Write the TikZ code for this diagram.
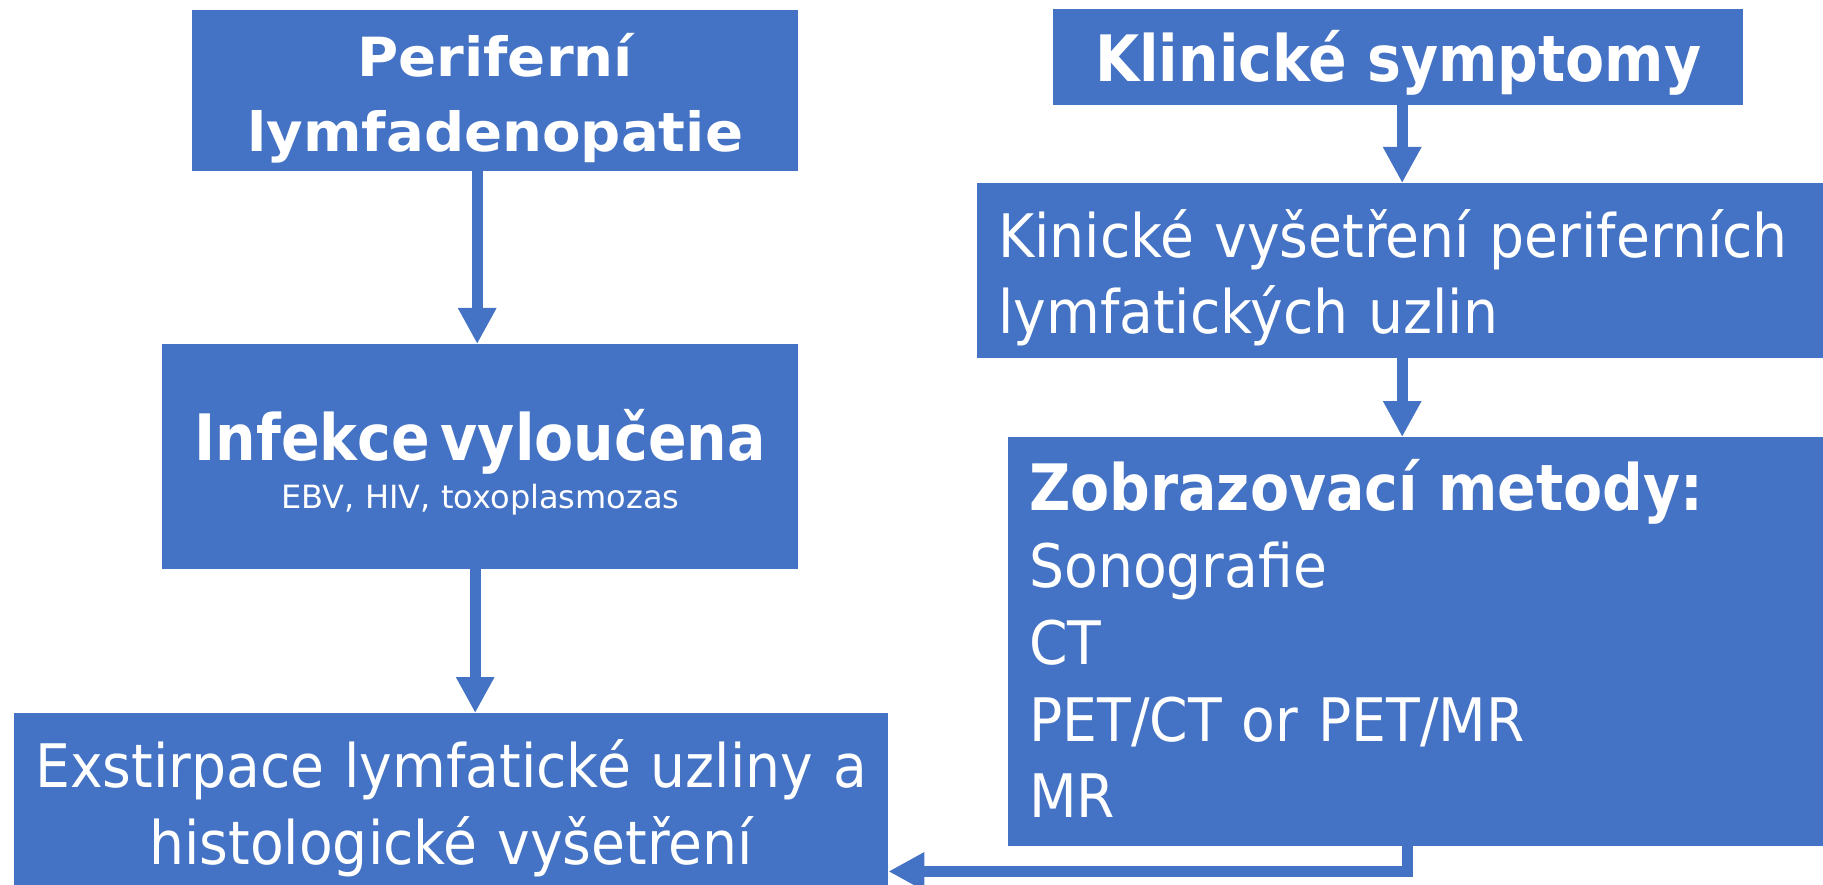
\documentclass[tikz,border=0pt]{standalone}
\usepackage{fontspec}
\setmainfont{DejaVu Sans}[FakeStretch=0.92]
\newfontfamily\headfont{DejaVu Sans Bold}[FakeStretch=0.89]
\newfontfamily\titlefont{DejaVu Sans Bold}[FakeStretch=1.04]
\newfontfamily\notefont{DejaVu Sans}
\usepackage{tikz}
\usetikzlibrary{
	arrows.meta                 % For Triangle arrow tips
}
\definecolor{boxblue}{HTML}{4472C4}
\newcommand{\titletext}{\fontsize{54}{75}\titlefont}
\newcommand{\headtext}{\fontsize{64}{76.7}\headfont}
\newcommand{\bodytext}{\fontsize{60}{76.7}\selectfont}
\newcommand{\notetext}{\fontsize{32}{48}\notefont}
\tikzset{
	block/.style={
		rectangle,
		fill=boxblue,
		text=white,
		inner sep=0pt,
		align=center,
		anchor=north west
	},
	listblock/.style={
		block,
		align=left,
		inner xsep=21pt
	},
	arrow/.style={
		draw=boxblue,
		line width=11pt,
		-{Triangle[length=36pt,width=36pt]}
	}
}

\begin{document}
\begin{tikzpicture}[x=1pt, y=-1pt]
	\useasboundingbox (0,0) rectangle (1823,885);
	
	% Left column: lymph node path
	% (text height/depth fix the baselines inside each box)
	\node [block, minimum width=606pt, text height=141.7pt, text depth=19.3pt, font=\titletext] (perif) at (192,10) {Periferní\\lymfadenopatie};
	\node [block, text width=636pt, text height=116pt, text depth=109pt, font=\notetext] (infekce) at (162,344) {{\headtext Infekce vyloučena}\\EBV, HIV, toxoplasmozas};
	\node [block, text width=874pt, text height=74.3pt, text depth=97.7pt, font=\bodytext] (exstirpace) at (14,713) {Exstirpace lymfatické uzliny a\\histologické vyšetření};
	
	% Right column: clinical work-up
	\node [block, minimum width=690pt, text height=72.7pt, text depth=23.3pt, font=\headtext] (symptomy) at (1053,9) {Klinické symptomy};
	\node [listblock, text width=804pt, text height=74pt, text depth=101pt, font=\bodytext] (vysetreni) at (977,183) {Kinické vyšetření periferních\\lymfatických uzlin};
	\node [listblock, text width=773pt, text height=73.7pt, text depth=335.3pt, font=\bodytext] (metody) at (1008,437) {{\headtext Zobrazovací metody:}\\Sonografie\\CT\\PET/CT or PET/MR\\MR};
	
	% Edges & Connections
	\draw [arrow] ([xshift=-3pt]infekce.north |- perif.south) -- ([xshift=-3pt]infekce.north);
	\draw [arrow] ([xshift=-5pt]infekce.south) -- ([xshift=-5pt]infekce.south |- exstirpace.north);
	\draw [arrow] ([xshift=4pt]symptomy.south) -- ([xshift=4pt]symptomy.south |- vysetreni.north);
	\draw [arrow] ([xshift=4pt]symptomy.south |- vysetreni.south) -- ([xshift=4pt]symptomy.south |- metody.north);
	
	% Imaging result back into the excision box
	\draw [arrow] ([xshift=-8pt]metody.south) |- ([yshift=14pt]exstirpace.south east);
\end{tikzpicture}
\end{document}
